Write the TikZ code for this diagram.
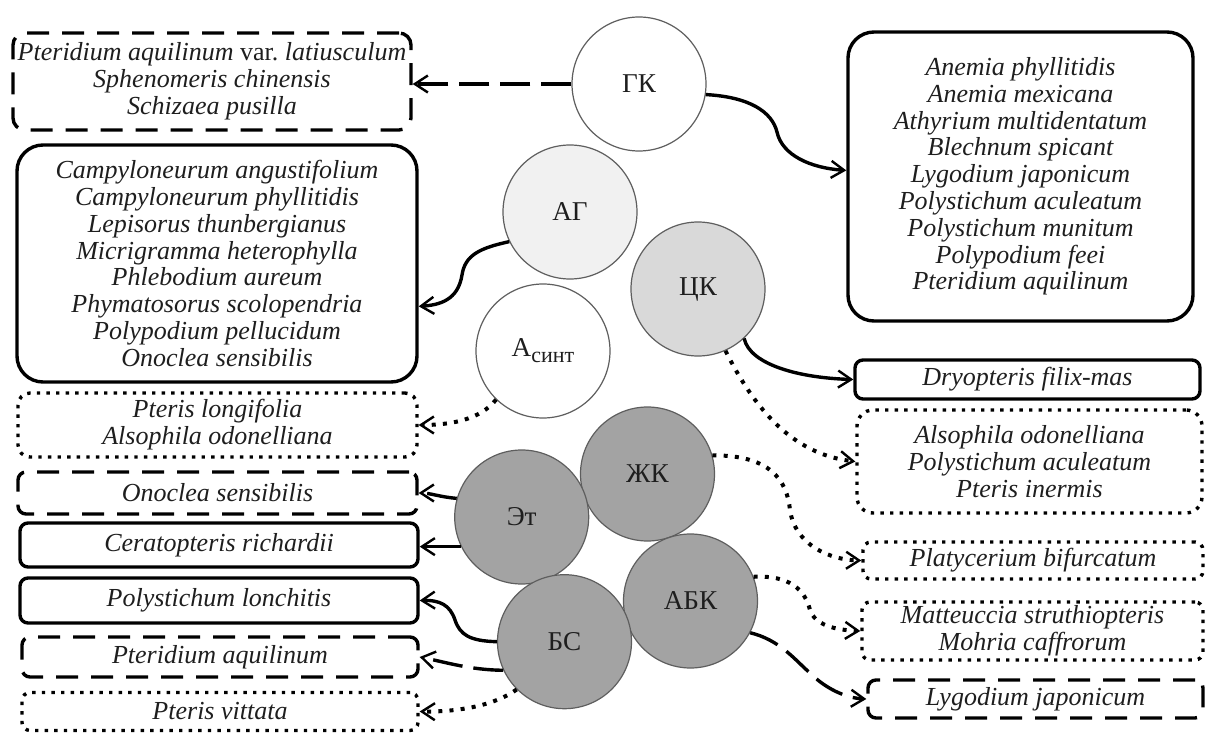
\documentclass[tikz,border=0pt]{standalone}
\usepackage{fontspec}
\setmainfont{Liberation Serif}
\usetikzlibrary{arrows.meta}
\definecolor{cdark}{HTML}{A3A3A3}
\definecolor{cmid}{HTML}{D9D9D9}
\definecolor{clight}{HTML}{F1F1F1}
\definecolor{cborder}{HTML}{5E5E5E}
\definecolor{ctext}{HTML}{1E1E1E}
\begin{document}
\begin{tikzpicture}[x=0.5pt,y=-0.5pt,
  circ/.style={circle, draw=cborder, line width=0.6pt, minimum size=67pt, inner sep=0pt, text=ctext, font=\fontsize{13.6}{14}\selectfont},
  sbox/.style={draw, line width=1.7pt, rounded corners=4pt, inner sep=0pt, align=center, text=ctext, font=\fontsize{13}{13.4}\selectfont\itshape},
  bigbox/.style={sbox, rounded corners=13pt},
  dashbox/.style={sbox, dash pattern=on 11pt off 6.5pt},
  dotbox/.style={sbox, dash pattern=on 1.7pt off 3.1pt},
  conn/.style={line width=1.7pt, -{Straight Barb[length=6.5pt,width=8.5pt,line width=1.2pt]}},
  dconn/.style={conn, dash pattern=on 15pt off 5.5pt},
  oconn/.style={conn, line width=2pt, dash pattern=on 2pt off 3.6pt},
]
\useasboundingbox (0,0) rectangle (1206,733);

% circles
\node[circ, fill=white] (gk) at (639,84) {ГК};
\node[circ, fill=clight] (ag) at (570,212) {АГ};
\node[circ, fill=cmid] (ck) at (698,289) {ЦК};
\node[circ, fill=white] (as) at (543,351) {А\raisebox{-0.5ex}{\fontsize{11}{11}\selectfont синт}};
\node[circ, fill=cdark] (zk) at (647.5,474) {ЖК};
\node[circ, fill=cdark] (et) at (521.7,517) {Эт};
\node[circ, fill=cdark] (abk) at (690.5,601) {АБК};
\node[circ, fill=cdark] (bs) at (564.5,641.7) {БС};

% boxes
\node[dashbox, rounded corners=6pt, minimum width=199pt, minimum height=48.5pt] (tl) at (212,81.5)
  {Pteridium aquilinum {\upshape var.}\ latiusculum\\Sphenomeris chinensis\\Schizaea pusilla};
\node[bigbox, minimum width=200pt, minimum height=118.5pt] (lb) at (217,263.5)
  {Campyloneurum angustifolium\\Campyloneurum phyllitidis\\Lepisorus thunbergianus\\Micrigramma heterophylla\\Phlebodium aureum\\Phymatosorus scolopendria\\Polypodium pellucidum\\Onoclea sensibilis};
\node[bigbox, minimum width=172.5pt, minimum height=144.5pt] (rb) at (1020.5,176.5)
  {Anemia phyllitidis\\Anemia mexicana\\Athyrium multidentatum\\Blechnum spicant\\Lygodium japonicum\\Polystichum aculeatum\\Polystichum munitum\\Polypodium feei\\Pteridium aquilinum};
\node[sbox, minimum width=172.5pt, minimum height=19.5pt] (dr) at (1027.5,379.5) {Dryopteris filix-mas};
\node[dotbox, rounded corners=8pt, minimum width=172.5pt, minimum height=51.5pt] (al) at (1029.5,461.5)
  {Alsophila odonelliana\\Polystichum aculeatum\\Pteris inermis};
\node[dotbox, minimum width=170pt, minimum height=18.5pt] (pb) at (1033,560.5) {Platycerium bifurcatum};
\node[dotbox, minimum width=170.5pt, minimum height=29pt] (mm) at (1032.5,631) {Matteuccia struthiopteris\\Mohria caffrorum};
\node[dashbox, minimum width=167.5pt, minimum height=19pt] (lj) at (1035.5,699) {Lygodium japonicum};
\node[dotbox, rounded corners=6pt, minimum width=199.5pt, minimum height=32pt] (pl) at (217.5,425) {Pteris longifolia\\Alsophila odonelliana};
\node[dashbox, minimum width=199.5pt, minimum height=21pt] (on) at (217.5,493) {Onoclea sensibilis};
\node[sbox, minimum width=199pt, minimum height=22pt] (cr) at (219,545) {Ceratopteris richardii};
\node[sbox, minimum width=199pt, minimum height=22.5pt] (plo) at (219,600.5) {Polystichum lonchitis};
\node[dashbox, minimum width=198pt, minimum height=20pt] (pa) at (220,657) {Pteridium aquilinum};
\node[dotbox, minimum width=198pt, minimum height=19pt] (pv) at (220,711.5) {Pteris vittata};

% connectors
\draw[dconn] (gk.west) -- (gk.west -| tl.east);
\draw[conn] (gk.-9) .. controls (750,97) and (772,112) .. (777,132) .. controls (782,155) and (810,168) .. (rb.178);
\draw[conn] (ag.206) .. controls (480,248) and (465,255) .. (462,275) .. controls (458,300) and (440,305) .. (lb.-12.5);
\draw[conn] (ck.-47) .. controls (750,365) and (800,378) .. (dr.west);
\draw[oconn] (ck.-66) .. controls (760,420) and (800,455) .. (al.west);
\draw[oconn] (as.-134) .. controls (480,420) and (450,425) .. (pl.east);
\draw[oconn] (zk.16) .. controls (770,455) and (787,480) .. (790,510) .. controls (795,545) and (830,560) .. (pb.west);
\draw[oconn] (abk.21) .. controls (790,575) and (805,590) .. (810,610) .. controls (815,625) and (835,630) .. (mm.west);
\draw[dconn] (abk.-28) .. controls (780,640) and (795,660) .. (810,673) .. controls (825,688) and (845,698) .. (lj.west);
\draw[dconn] (et.164) .. controls (440,497) and (430,493) .. (on.east);
\draw[conn] (et.206) -- (et.206 -| cr.east);
\draw[conn] (bs.west) .. controls (470,641) and (460,635) .. (455,620) .. controls (450,605) and (440,600) .. (plo.east);
\draw[dconn] (bs.205) .. controls (470,670) and (445,662) .. (pa.east);
\draw[oconn] (bs.225) .. controls (495,705) and (460,712) .. (pv.east);
\end{tikzpicture}
\end{document}
